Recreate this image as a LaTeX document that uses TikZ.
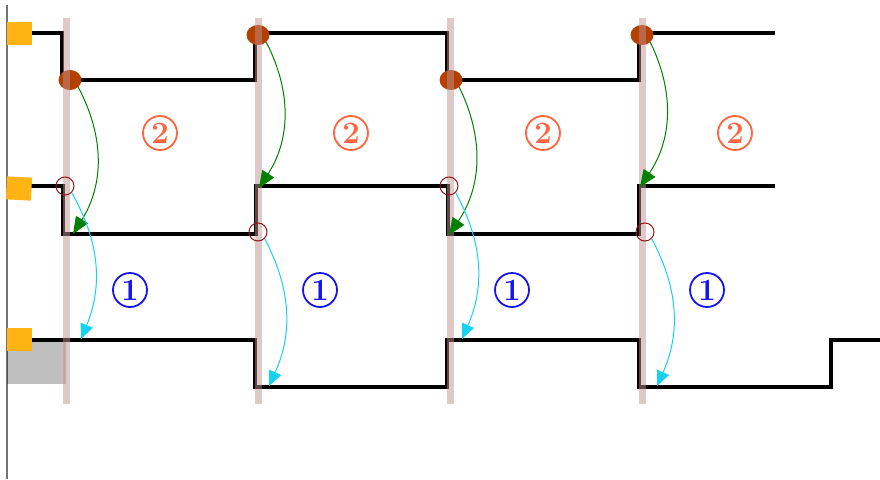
\documentclass[tikz,border=0pt]{standalone}
\usetikzlibrary{arrows.meta,shapes.geometric}
\definecolor{bandc}{RGB}{193,145,145}
\definecolor{orng}{RGB}{255,180,20}
\definecolor{brn}{RGB}{180,64,0}
\definecolor{grn}{RGB}{0,128,0}
\definecolor{cyn}{RGB}{20,210,240}
\definecolor{dred}{RGB}{150,20,20}
\definecolor{lblred}{RGB}{255,100,60}
\definecolor{lblblue}{RGB}{20,20,240}
\begin{document}
\begin{tikzpicture}[x=1pt,y=-1pt,
  band/.style={draw=bandc,draw opacity=0.5,line width=7pt},
  sig/.style={draw=black,line width=3.6pt,line join=miter},
  src/.style={fill=orng,minimum width=25pt,minimum height=23pt,inner sep=0pt,outer sep=0pt},
  bdot/.style={ellipse,fill=brn,minimum width=23pt,minimum height=20pt,inner sep=0pt},
  rcirc/.style={circle,draw=dred,line width=1pt,minimum size=18pt,inner sep=0pt},
  garr/.style={draw=grn,line width=1pt,-{Triangle[length=17pt,width=14pt]},bend left=30},
  carr/.style={draw=cyn,line width=1pt,-{Triangle[length=15pt,width=13pt]},bend left=26},
  lbl/.style={circle,draw,line width=1.8pt,minimum size=34pt,inner sep=0pt,font=\fontsize{31}{33}\selectfont\bfseries}
]
\useasboundingbox (0,0) rectangle (880,479);
% left axis
\draw[gray!90!black,line width=1.6pt] (7,5) -- (7,479);
% gray box
\fill[black,fill opacity=0.25] (7,340) rectangle (66,384);
% signals
\draw[sig] (7,33) -- (62,33) -- (62,80) -- (255,80) -- (255,33) -- (447,33) -- (447,80) -- (639,80) -- (639,33) -- (775,33);
\draw[sig] (31,186) -- (63,186) -- (63,234) -- (256,234) -- (256,186) -- (448,186) -- (448,234) -- (639,234) -- (639,186) -- (775,186);
\draw[sig] (31,340) -- (255,340) -- (255,387) -- (447,387) -- (447,340) -- (639,340) -- (639,387) -- (831,387) -- (831,340) -- (880,340);
\draw[black,line width=4.8pt] (118,340) -- (138,340);
% sources
\node[src] (s1) at (19.5,33.5) {};
\node[src,rotate=-3] (s2) at (19,188.5) {};
\node[src] (s3) at (19.5,339.5) {};
% brown dots
\node[bdot] (b1) at (70,80) {};
\node[bdot] (b2) at (258,35) {};
\node[bdot] (b3) at (451,80) {};
\node[bdot] (b4) at (642,35) {};
% bands
\foreach \x in {66,258,450,642} \draw[band] (\x,18) -- (\x,404);
% red circles
\node[rcirc] (r1) at (65,186) {};
\node[rcirc] (r2) at (258,232) {};
\node[rcirc] (r3) at (449,186) {};
\node[rcirc] (r4) at (645,232) {};
% targets
\coordinate (g1) at (73,234);
\coordinate (g2) at (259,188);
\coordinate (g3) at (449,235);
\coordinate (g4) at (640,187);
\coordinate (c1) at (81,339);
\coordinate (c2) at (269,386);
\coordinate (c3) at (462,339);
\coordinate (c4) at (657,386);
% green arrows
\draw[garr] (b1.south east) to (g1);
\draw[garr] (b2.south east) to (g2);
\draw[garr] (b3.south east) to (g3);
\draw[garr] (b4.south east) to (g4);
% cyan arrows
\draw[carr] (r1.south east) to (c1);
\draw[carr] (r2.south east) to (c2);
\draw[carr] (r3.south east) to (c3);
\draw[carr] (r4.south east) to (c4);
% labels
\foreach \n/\x in {a/160,b/351,c/543,d/735} \node[lbl,draw=lblred,text=lblred] (l2\n) at (\x,133) {2};
\foreach \n/\x in {a/130,b/320,c/512,d/707} \node[lbl,draw=lblblue,text=lblblue] (l1\n) at (\x,290) {1};
\end{tikzpicture}
\end{document}
